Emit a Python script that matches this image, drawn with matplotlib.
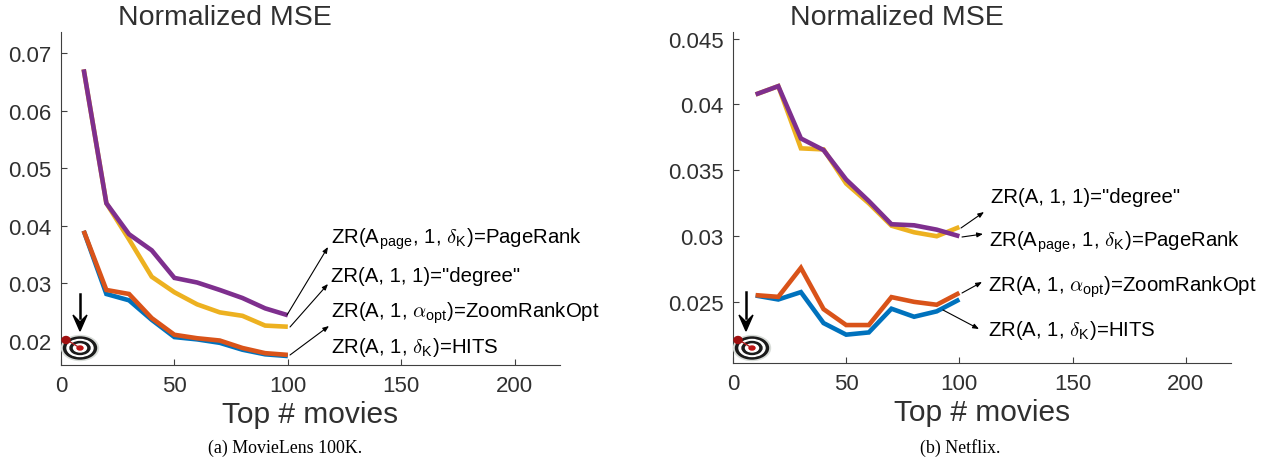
import matplotlib
matplotlib.use('Agg')
import matplotlib.pyplot as plt
from matplotlib.patches import Ellipse, Polygon

plt.rcParams['font.family'] = ['Liberation Sans', 'DejaVu Sans']
plt.rcParams['mathtext.fontset'] = 'cm'

W, H = 1271, 460

top_n = [10, 20, 30, 40, 50, 60, 70, 80, 90, 100]

# MovieLens 100K
ml_hits = [0.0391, 0.0281, 0.0270, 0.0236, 0.0206, 0.0202, 0.0196, 0.0184, 0.0176, 0.0173]
ml_opt = [0.0391, 0.0288, 0.0281, 0.0239, 0.0210, 0.0204, 0.0200, 0.0187, 0.0178, 0.0175]
ml_degree = [0.0672, 0.0439, 0.0376, 0.0311, 0.0284, 0.0263, 0.0249, 0.0243, 0.0226, 0.0224]
ml_page = [0.0672, 0.0439, 0.0385, 0.0357, 0.0309, 0.0301, 0.0288, 0.0274, 0.0256, 0.0244]

# Netflix
nf_hits = [0.0255, 0.0252, 0.02576, 0.02341, 0.02253, 0.0227, 0.0245, 0.02389, 0.0243, 0.0252]
nf_opt = [0.02553, 0.0254, 0.0276, 0.02447, 0.02326, 0.02326, 0.02538, 0.02502, 0.0248, 0.0257]
nf_degree = [0.04076, 0.04139, 0.03667, 0.03659, 0.034, 0.0325, 0.0308, 0.0303, 0.03, 0.0307]
nf_page = [0.04076, 0.04139, 0.03742, 0.03654, 0.0343, 0.03267, 0.03091, 0.03083, 0.0305, 0.03]

ml_yticks = [0.02, 0.03, 0.04, 0.05, 0.06, 0.07]
nf_yticks = [0.025, 0.03, 0.035, 0.04, 0.045]
xticks = [0, 50, 100, 150, 200]

colors = ['#0072BD', '#D95319', '#EDB120', '#7E2F8E']

page_txt = r'ZR(A$_{\mathregular{page}}$, 1, $\delta_{\mathregular{K}}$)=PageRank'
degree_txt = 'ZR(A, 1, 1)="degree"'
opt_txt = r'ZR(A, 1, $\alpha_{\mathregular{opt}}$)=ZoomRankOpt'
hits_txt = r'ZR(A, 1, $\delta_{\mathregular{K}}$)=HITS'


def add_axes_px(left, top, right, bottom):
    return fig.add_axes([left/W, 1-bottom/H, (right-left)/W, (bottom-top)/H])


def setup(ax, series, ylim, yticks, yfmt):
    for s, c in zip(series, colors):
        ax.plot(top_n, s, color=c, linewidth=3.3, solid_joinstyle='miter', solid_capstyle='butt')
    ax.set_xlim(0, 220)
    ax.set_ylim(*ylim)
    ax.set_xticks(xticks)
    ax.set_yticks(yticks)
    ax.set_yticklabels([yfmt % v for v in yticks])
    ax.spines['top'].set_visible(False)
    ax.spines['right'].set_visible(False)
    ax.spines['left'].set_color('#404040')
    ax.spines['bottom'].set_color('#404040')
    ax.tick_params(direction='in', length=4, width=0.8, color='#404040', labelcolor='#303030',
                   labelsize=16)
    ax.tick_params(axis='y', pad=7)
    ax.tick_params(axis='x', pad=7)
    ax.set_xlabel('Top # movies', fontsize=21.5, color='#303030', labelpad=3)
    ax.set_title('Normalized MSE', fontsize=20.5, color='#303030', x=0.329, pad=6)


def target(cx, cy, arrow_top):
    # arrow and dart board drawn in pixel coordinates of the overlay
    ov.add_patch(Ellipse((cx, cy), 37, 25, color='#d8dcd8', zorder=3))
    for w, h, c in [(33, 22, '#1a1a1a'), (26, 17, 'white'), (20, 13, '#1a1a1a'), (13, 8, 'white'), (6, 4, '#c01010')]:
        ov.add_patch(Ellipse((cx, cy), w, h, color=c, zorder=3))
    ov.plot([cx-13, cx], [cy-8, cy], color='#b02020', lw=1, zorder=4)
    ov.add_patch(Ellipse((cx-14, cy-8), 8, 7, color='#a01010', zorder=4))
    ax_x = cx if cx < 100 else cx-6
    ov.plot([ax_x, ax_x], [arrow_top, cy-30], color='black', lw=1.8, zorder=3)
    ov.add_patch(Polygon([(ax_x-7, cy-33), (ax_x, cy-17), (ax_x+7, cy-33), (ax_x, cy-26)],
                         closed=True, color='black', zorder=3))


def note(txt, x, y):
    ov.text(x, y, txt, fontsize=14.7, color='black', ha='left', va='baseline')


def arrow(x0, y0, x1, y1):
    ov.annotate('', xy=(x1, y1), xytext=(x0, y0),
                arrowprops=dict(arrowstyle='-|>,head_length=0.35,head_width=0.14', color='black',
                                lw=0.8, shrinkA=0, shrinkB=0))


fig = plt.figure(figsize=(W/100, H/100), dpi=100)

ax1 = add_axes_px(61, 33, 560, 366)
setup(ax1, [ml_hits, ml_opt, ml_degree, ml_page], (0.01574, 0.0737), ml_yticks, '%.2f')

ax2 = add_axes_px(733, 33, 1231, 364)
setup(ax2, [nf_hits, nf_opt, nf_degree, nf_page], (0.02038, 0.0455), nf_yticks, '%g')

# overlay in pixel coordinates for callouts, icon and captions
ov = fig.add_axes([0, 0, 1, 1], facecolor='none')
ov.set_xlim(0, W)
ov.set_ylim(H, 0)
ov.axis('off')

note(page_txt, 331, 244)
note(degree_txt, 331, 282)
note(opt_txt, 331, 318)
note(hits_txt, 331, 353)
arrow(287, 316, 328, 248)
arrow(290, 328, 328, 285)
arrow(290, 356, 329, 327)

note(degree_txt, 991, 203)
note(page_txt, 989, 247)
note(opt_txt, 988, 292)
note(hits_txt, 988, 336)
arrow(961, 229, 984, 213)
arrow(962, 238, 983, 235)
arrow(962, 294, 982, 283)
arrow(943, 311, 979, 330)

target(80, 349, 295)
target(752, 349, 293)

ov.text(285, 453, '(a) MovieLens 100K.', fontsize=12.9, family='Liberation Serif', ha='center', va='baseline')
ov.text(960, 453, '(b) Netflix.', fontsize=12.9, family='Liberation Serif', ha='center', va='baseline')

fig.savefig('out.png', dpi=100)
